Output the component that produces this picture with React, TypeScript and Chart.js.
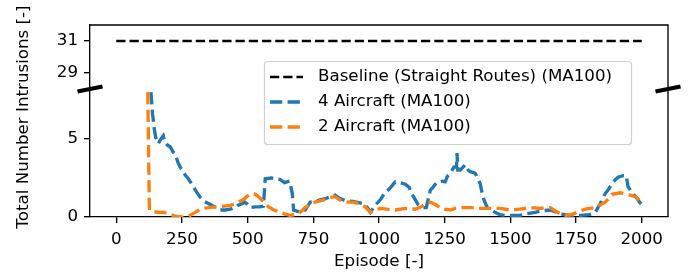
import React, { useEffect, useRef } from "react";
import { Chart, registerables } from "chart.js";

Chart.register(...registerables);

// ---- Data ----
const episodes4 = [
  132, 138, 145, 150, 160, 170, 179, 185, 195, 205, 215, 225, 235, 243, 252, 262, 272, 282, 291, 300,
  310, 320, 335, 358, 380, 396, 415, 434, 450, 464, 478, 490, 500, 510, 530, 548, 560, 567, 590, 605,
  624, 640, 660, 670, 675, 700, 719, 738, 757, 776, 800, 833, 850, 871, 900, 928, 947, 960, 967, 985,
  1005, 1024, 1040, 1062, 1080, 1100, 1115, 1126, 1149, 1168, 1180, 1195, 1210, 1221, 1240, 1252, 1260, 1271, 1285, 1295,
  1297, 1300, 1309, 1320, 1328, 1340, 1347, 1360, 1366, 1378, 1385, 1396, 1412, 1442, 1460, 1480, 1510, 1537, 1560, 1594,
  1620, 1651, 1670, 1689, 1727, 1766, 1800, 1823, 1842, 1861, 1875, 1887, 1900, 1910, 1929, 1941, 1948, 1963, 1982, 1994,
  2000,
];
const intrusions4 = [
  8.0, 6.6, 5.6, 5.1, 4.7, 5.0, 5.2, 4.8, 4.6, 4.5, 4.2, 4.0, 3.5, 3.2, 3.0, 2.7, 2.5, 2.25, 2.0, 1.75,
  1.5, 1.25, 1.0, 0.8, 0.6, 0.45, 0.45, 0.5, 0.6, 0.75, 0.85, 0.95, 0.8, 0.6, 0.65, 0.65, 0.7, 2.45, 2.5, 2.45,
  2.4, 2.2, 2.3, 1.5, 0.45, 0.3, 0.45, 0.95, 1.0, 1.1, 1.2, 1.4, 1.2, 1.05, 1.0, 0.9, 0.8, 0.5, 0.3, 0.75,
  1.1, 1.6, 1.8, 2.25, 2.2, 2.1, 1.9, 1.45, 0.8, 0.6, 0.6, 1.7, 2.0, 2.25, 2.3, 2.25, 2.6, 2.8, 3.2, 3.2,
  4.1, 3.0, 3.0, 3.2, 3.35, 3.0, 2.9, 2.85, 2.8, 2.4, 2.15, 1.25, 0.6, 0.3, 0.15, 0.1, 0.1, 0.1, 0.2, 0.3,
  0.4, 0.45, 0.35, 0.2, 0.1, 0.1, 0.15, 0.3, 0.85, 1.5, 1.8, 2.15, 2.4, 2.55, 2.65, 2.65, 1.95, 1.55, 1.2, 0.9,
  0.8,
];
const episodes2 = [
  120, 126, 140, 160, 180, 200, 225, 250, 275, 300, 320, 350, 380, 410, 434, 460, 483, 500, 515, 530,
  545, 560, 580, 600, 624, 640, 662, 680, 700, 719, 738, 757, 790, 814, 833, 850, 871, 900, 928, 947,
  967, 985, 1005, 1030, 1062, 1100, 1138, 1160, 1176, 1195, 1215, 1233, 1250, 1271, 1290, 1309, 1347, 1385, 1423, 1461,
  1499, 1537, 1575, 1613, 1651, 1670, 1690, 1708, 1730, 1747, 1785, 1823, 1845, 1861, 1875, 1887, 1918, 1948, 1975, 1990,
  2000,
];
const intrusions2 = [
  8.0, 0.45, 0.35, 0.3, 0.3, 0.2, 0.05, 0.0, 0.05, 0.3, 0.5, 0.6, 0.65, 0.7, 0.75, 0.9, 1.1, 1.35, 1.5, 1.45,
  1.25, 1.0, 0.65, 0.45, 0.3, 0.2, 0.1, 0.15, 0.3, 0.6, 0.8, 0.95, 1.1, 1.25, 1.3, 1.1, 0.95, 0.95, 0.85, 0.65,
  0.3, 0.45, 0.55, 0.5, 0.45, 0.55, 0.5, 0.65, 0.85, 0.95, 0.8, 0.6, 0.5, 0.45, 0.55, 0.6, 0.6, 0.55, 0.55, 0.55,
  0.45, 0.5, 0.6, 0.55, 0.6, 0.4, 0.2, 0.1, 0.15, 0.25, 0.5, 0.6, 0.8, 0.95, 1.2, 1.45, 1.55, 1.45, 1.3, 1.1,
  0.95,
];
const baselineEpisodes = [0, 2000];
const baselineIntrusions = [31, 31];

const xTickValues = [0, 250, 500, 750, 1000, 1250, 1500, 1750, 2000];
const lowerTickValues = [0, 5];
const upperTickValues = [29, 31];

const seriesLabels = [
  "Baseline (Straight Routes) (MA100)",
  "4 Aircraft (MA100)",
  "2 Aircraft (MA100)",
];
const seriesColors = ["#000000", "#1f77b4", "#ff7f0e"];

const xTitle = "Episode [-]";
const yTitle = "Total Number Intrusions [-]";

// ---- Style ----
const FAMILY = '"DejaVu Sans", sans-serif';
const FS = 16.7;
const SPINE = 1.33;

const toPoints = (xs: number[], ys: number[]) => xs.map((x, i) => ({ x, y: ys[i] }));

const decorPlugin = {
  id: "decor",
  afterDraw(chart: any) {
    const { ctx, chartArea: ca, scales } = chart;
    ctx.save();
    // top & right spines
    ctx.strokeStyle = "#000";
    ctx.lineWidth = SPINE;
    ctx.setLineDash([]);
    ctx.beginPath();
    ctx.moveTo(ca.left, ca.top);
    ctx.lineTo(ca.right, ca.top);
    ctx.lineTo(ca.right, ca.bottom);
    ctx.stroke();

    // axis-break marks
    const yb = scales.yUpper.bottom;
    ctx.lineWidth = 4;
    ctx.lineCap = "butt";
    for (const xb of [ca.left, ca.right]) {
      ctx.beginPath();
      ctx.moveTo(xb - 12.5, yb + 2.5);
      ctx.lineTo(xb + 12.5, yb - 2.5);
      ctx.stroke();
    }

    // legend
    const lx = ca.left + 174;
    const ly = ca.top + 36;
    ctx.fillStyle = "rgba(255,255,255,0.8)";
    ctx.strokeStyle = "#d0d0d0";
    ctx.lineWidth = 1.2;
    ctx.beginPath();
    (ctx as any).roundRect(lx + 0.5, ly + 0.5, 367, 83, 3);
    ctx.fill();
    ctx.stroke();
    ctx.font = `${FS}px ${FAMILY}`;
    ctx.textBaseline = "middle";
    ctx.textAlign = "left";
    for (let i = 0; i < seriesLabels.length; i++) {
      const ry = ly + 16 + i * 25;
      ctx.strokeStyle = seriesColors[i];
      ctx.lineWidth = i === 0 ? 2.5 : 3.33;
      ctx.setLineDash(i === 0 ? [9.25, 4] : [12.3, 5.3]);
      ctx.beginPath();
      ctx.moveTo(lx + 6, ry);
      ctx.lineTo(lx + 39, ry);
      ctx.stroke();
      ctx.setLineDash([]);
      ctx.fillStyle = "#000";
      ctx.fillText(seriesLabels[i], lx + 54, ry);
    }

    // axis titles
    ctx.fillStyle = "#000";
    ctx.textAlign = "center";
    ctx.textBaseline = "middle";
    ctx.fillText(xTitle, (ca.left + ca.right) / 2, 262);
    ctx.translate(24, 117);
    ctx.rotate(-Math.PI / 2);
    ctx.fillText(yTitle, 0, 0);
    ctx.restore();
  },
};

const tickFont = { family: FAMILY, size: FS };
const gridOpts = {
  display: true,
  drawOnChartArea: false,
  drawTicks: true,
  tickLength: 6,
  color: "#000",
  lineWidth: SPINE,
};
const borderOpts = { display: true, color: "#000", width: SPINE };

export default function App() {
  const ref = useRef<HTMLCanvasElement | null>(null);

  useEffect(() => {
    if (!ref.current) return;
    const chart = new Chart(ref.current, {
      type: "line",
      data: {
        datasets: [
          {
            label: seriesLabels[0],
            data: toPoints(baselineEpisodes, baselineIntrusions),
            yAxisID: "yUpper",
            borderColor: seriesColors[0],
            borderWidth: 2.5,
            borderDash: [9.25, 4],
            pointRadius: 0,
            order: 2,
          },
          {
            label: seriesLabels[1],
            data: toPoints(episodes4, intrusions4),
            yAxisID: "y",
            borderColor: seriesColors[1],
            borderWidth: 3.33,
            borderDash: [12.3, 5.3],
            pointRadius: 0,
            order: 1,
          },
          {
            label: seriesLabels[2],
            data: toPoints(episodes2, intrusions2),
            yAxisID: "y",
            borderColor: seriesColors[2],
            borderWidth: 3.33,
            borderDash: [12.25, 5.35],
            pointRadius: 0,
            order: 0,
          },
        ],
      } as any,
      options: {
        responsive: false,
        animation: false,
        devicePixelRatio: 1,
        layout: { padding: { left: 0, right: 23, top: 25, bottom: 0 } },
        plugins: { legend: { display: false }, tooltip: { enabled: false } },
        elements: { line: { tension: 0 } },
        scales: {
          x: {
            type: "linear",
            min: -100,
            max: 2100,
            afterBuildTicks: (s: any) => {
              s.ticks = xTickValues.map((v) => ({ value: v }));
            },
            afterFit: (s: any) => {
              s.height = 60;
            },
            ticks: { font: tickFont, color: "#000", padding: 7, maxRotation: 0, autoSkip: false, callback: (v: any) => String(v) },
            grid: gridOpts,
            border: borderOpts,
          },
          y: {
            type: "linear",
            position: "left",
            stack: "v",
            stackWeight: 2,
            min: 0,
            max: 8.2,
            afterBuildTicks: (s: any) => {
              s.ticks = lowerTickValues.map((v) => ({ value: v }));
            },
            afterFit: (s: any) => {
              s.width = 90;
            },
            ticks: { font: tickFont, color: "#000", padding: 6, autoSkip: false, callback: (v: any) => String(v) },
            grid: gridOpts,
            border: borderOpts,
          },
          yUpper: {
            type: "linear",
            position: "left",
            stack: "v",
            stackWeight: 1,
            min: 28,
            max: 32,
            afterBuildTicks: (s: any) => {
              s.ticks = upperTickValues.map((v) => ({ value: v }));
            },
            afterFit: (s: any) => {
              s.width = 90;
            },
            ticks: { font: tickFont, color: "#000", padding: 6, autoSkip: false, callback: (v: any) => String(v) },
            grid: gridOpts,
            border: borderOpts,
          },
        },
      } as any,
      plugins: [decorPlugin],
    });
    return () => chart.destroy();
  }, []);

  return (
    <div style={{ position: "fixed", left: 0, top: 0, width: 691, height: 277, background: "#fff" }}>
      <canvas ref={ref} width={691} height={277} style={{ display: "block" }} />
    </div>
  );
}
